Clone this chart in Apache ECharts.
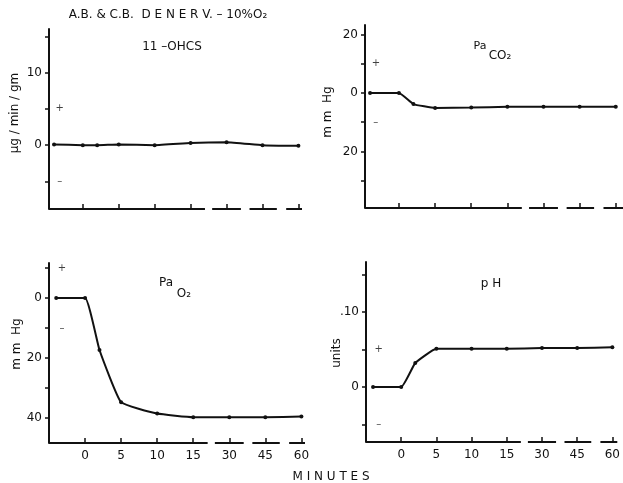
<!DOCTYPE html>
<html>
<head>
<meta charset="UTF-8">
<title>A.B. & C.B. DENERV. - 10% O2</title>
<script src="https://cdn.jsdelivr.net/npm/echarts@6/dist/echarts.min.js"></script>
<style>
    html, body { margin: 0; padding: 0; background: #fff; }
    #main { width: 623px; height: 483px; }
</style>
</head>
<body>
<div id="main"></div>
<script>
    // minute labels on the broken time axis, and where each sample sits on it
    var timeLabels = ['0', '5', '10', '15', '30', '45', '60'];
    var tickPos = [0, 5, 10, 15, 20, 25, 30];
    var timePos = [-4, 0, 2, 5, 10, 15, 20, 25, 30];   // control, 0, 2, 5, 10, 15, 30, 45, 60 min

    var ohcs  = [0.1, 0, 0, 0.1, 0, 0.3, 0.4, 0, -0.1];
    var paco2 = [0, 0, -3.8, -5.1, -5, -4.7, -4.7, -4.7, -4.7];
    var pao2  = [0, 0, -17.3, -34.7, -38.5, -39.7, -39.7, -39.7, -39.5];
    var ph    = [0, 0, 0.032, 0.051, 0.051, 0.051, 0.052, 0.052, 0.053];

    // y ticks and labelled ticks per panel
    var ohcsTicks  = [-5, 0, 5, 10, 15],        ohcsLabels  = [0, 10];
    var paco2Ticks = [20, 10, 0, -10, -20, -30], paco2Labels = [20, 0, -20];
    var pao2Ticks  = [10, 0, -10, -20, -30, -40], pao2Labels = [0, -20, -40];
    var phTicks    = [0.15, 0.1, 0.05, 0, -0.05], phLabels = [0.1, 0];

    // the + / - marks beside each y axis
    var signX = -3.2;
    var ohcsSign = [5, -5], paco2Sign = [10, -10], pao2Sign = [10, -10], phSign = [0.05, -0.05];

    // pieces of the broken time axis
    var axisPieces = [[null, 17], [18, 22], [23.2, 27], [28.3, null]];

    var font = 'DejaVu Sans';
    var ink = '#111';

    var panels = [
        {grid: {left: 49, top: 29, width: 253, height: 180}, x: [-4.7, 30.5], y: [-8.8, 16],
            data: ohcs, ticks: ohcsTicks, labels: ohcsLabels, sign: ohcsSign, showX: false,
            fmt: function (v) { return String(Math.abs(v)); }},
        {grid: {left: 365, top: 25, width: 259, height: 183}, x: [-4.7, 31], y: [-39.4, 23.3],
            data: paco2, ticks: paco2Ticks, labels: paco2Labels, sign: paco2Sign, showX: false,
            fmt: function (v) { return String(Math.abs(v)); }},
        {grid: {left: 49, top: 263, width: 256, height: 180}, x: [-5, 30.5], y: [-48.3, 11.7],
            data: pao2, ticks: pao2Ticks, labels: pao2Labels, sign: pao2Sign, showX: true,
            fmt: function (v) { return String(Math.abs(v)); }},
        {grid: {left: 366, top: 262, width: 257, height: 180}, x: [-5, 30.7], y: [-0.0733, 0.1667],
            data: ph, ticks: phTicks, labels: phLabels, sign: phSign, showX: true,
            fmt: function (v) { return v === 0 ? '0' : v.toFixed(2).replace(/^0/, ''); }}
    ];

    var grids = [], xAxes = [], yAxes = [], series = [];
    panels.forEach(function (p, i) {
        grids.push(p.grid);
        xAxes.push({
            type: 'value', gridIndex: i, min: p.x[0], max: p.x[1],
            axisLine: {show: false, onZero: false},
            splitLine: {show: false},
            axisTick: {show: true, inside: true, length: 5, customValues: tickPos,
                lineStyle: {color: ink, width: 1.5}},
            axisLabel: {show: p.showX, customValues: tickPos, margin: 7,
                color: ink, fontFamily: font, fontSize: 12,
                formatter: function (v) { return timeLabels[tickPos.indexOf(v)]; }}
        });
        yAxes.push({
            type: 'value', gridIndex: i, min: p.y[0], max: p.y[1],
            axisLine: {show: true, onZero: false, lineStyle: {color: ink, width: 2}},
            splitLine: {show: false},
            axisTick: {show: true, length: 4, customValues: p.ticks, lineStyle: {color: ink, width: 1.5}},
            axisLabel: {customValues: p.labels, margin: 7, color: ink, fontFamily: font, fontSize: 12,
                formatter: p.fmt}
        });
        var pieces = axisPieces.map(function (s) {
            return [{coord: [s[0] === null ? p.x[0] : s[0], p.y[0]]},
                    {coord: [s[1] === null ? p.x[1] : s[1], p.y[0]]}];
        });
        series.push({
            type: 'line', xAxisIndex: i, yAxisIndex: i,
            data: timePos.map(function (t, k) { return [t, p.data[k]]; }),
            smooth: 0.12, symbol: 'circle', symbolSize: 4,
            itemStyle: {color: ink}, lineStyle: {color: ink, width: 2},
            markLine: {silent: true, symbol: ['none', 'none'], label: {show: false},
                lineStyle: {color: ink, width: 2, type: 'solid'}, data: pieces}
        });
        series.push({
            type: 'scatter', xAxisIndex: i, yAxisIndex: i, symbolSize: 1,
            itemStyle: {color: 'rgba(0,0,0,0)'},
            data: [[signX, p.sign[0], '+'], [signX, p.sign[1], '–']],
            label: {show: true, position: 'inside', color: ink, fontFamily: font, fontSize: 10,
                formatter: function (d) { return d.value[2]; }}
        });
    });

    function txt(x, y, s, size, rot) {
        return {type: 'text', x: x, y: y, rotation: rot || 0,
            style: {text: s, fill: ink, font: (size || 12) + 'px "' + font + '"',
                textAlign: 'center', textVerticalAlign: 'middle'}};
    }

    var option = {
        animation: false,
        backgroundColor: '#fff',
        grid: grids,
        xAxis: xAxes,
        yAxis: yAxes,
        series: series,
        graphic: [
            txt(168, 15, 'A.B. & C.B.  D E N E R V. – 10%O₂', 12),
            txt(172, 47, '11 –OHCS', 12),
            txt(480, 46, 'Pa', 11),
            txt(500, 56, 'CO₂', 12),
            txt(166, 283, 'Pa', 12),
            txt(184, 294, 'O₂', 12),
            txt(491, 284, 'p H', 12),
            txt(331, 477, 'M I N U T E S', 12),
            txt(15, 113, 'µg / min / gm', 12, Math.PI / 2),
            txt(328, 112, 'm m  Hg', 12, Math.PI / 2),
            txt(17, 344, 'm m  Hg', 12, Math.PI / 2),
            txt(337, 353, 'units', 12, Math.PI / 2)
        ]
    };

    var myChart = echarts.init(document.getElementById('main'));
    myChart.setOption(option);
</script>
</body>
</html>
